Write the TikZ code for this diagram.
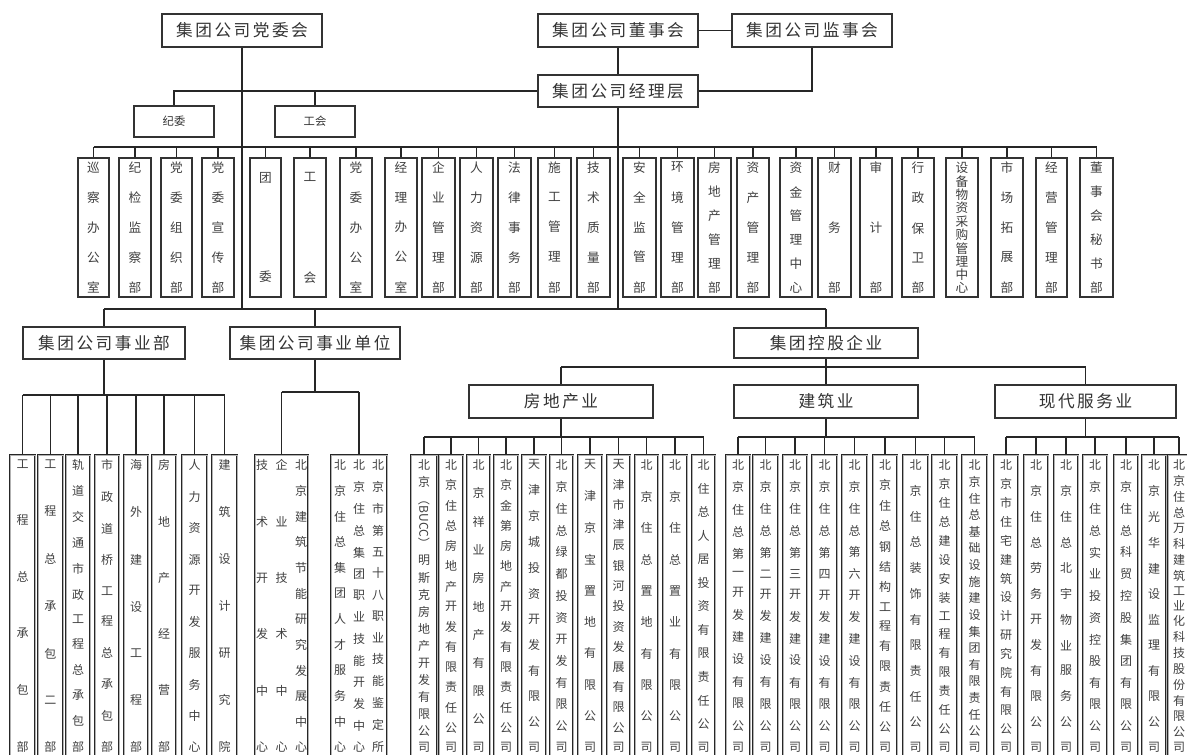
\documentclass[tikz,border=0pt]{standalone}
\usepackage{fontspec}
\usepackage{graphicx}
\setmainfont{Noto Sans CJK SC}
\newfontfamily\lsfont[LetterSpace=15]{Noto Sans CJK SC}
\newdimen\pxu \pxu=0.75pt
\makeatletter
\newcommand\vtext[1]{\offinterlineskip\vt@i#1\@nil}
\def\vt@i#1#2\@nil{\hbox to\hsize{\hss#1\hss}\ifx\relax#2\relax\else\vfill\vt@i#2\@nil\fi}
\makeatother
\newcommand\vcol[3]{\parbox[c][#1][s]{#2}{\vtext{#3}}}
\newcommand\bx[7]{\node[#1, minimum width={(#4-#3)*0.75pt}, minimum height={(#6-#5)*0.75pt}] (#2) at ({(#3+#4)/2},{(#5+#6)/2}) {#7};}
\newcommand\dep[5][130]{\bx{deptbox}{#2}{#3}{#4}{158}{297}{\vcol{#1\pxu}{16\pxu}{#5}}}
\newcommand\btm[4]{\bx{botbox}{#1}{#2}{#3}{455}{757}{\vcol{292\pxu}{16\pxu}{#4}}}
\tikzset{
  conn/.style={draw=black!85, line width=1pt},
  topbox/.style={draw=black!80, line width=1.1pt, fill=white, inner sep=0pt, text=black!80, font=\lsfont\fontsize{12.5}{14}\selectfont},
  smallbox/.style={draw=black!80, line width=1.1pt, fill=white, inner sep=0pt, text=black!80, font=\fontsize{8.5}{10}\selectfont},
  deptbox/.style={draw=black!80, line width=1.1pt, fill=white, inner sep=0pt, text=black!75, font=\fontsize{9.5}{11}\selectfont},
  botbox/.style={draw=black!85, line width=0.6pt, double=black!30, double distance=0.6pt, fill=white, inner sep=0pt, text=black!75, font=\fontsize{9}{10}\selectfont},
}
\begin{document}
\begin{tikzpicture}[x=0.75pt,y=-0.75pt]
\fill[white] (0,0) rectangle (1187,754);
\useasboundingbox (0,0) rectangle (1187,754);
% bus coordinates
\coordinate (b1) at (0,147);
\coordinate (mbus) at (0,309);
\coordinate (kb) at (0,367);
\coordinate (sb) at (0,395);
\coordinate (ub) at (0,392);
\coordinate (pb) at (0,437);
% top boxes
\bx{topbox}{dw}{162}{322}{14}{47}{集团公司党委会}
\bx{topbox}{dsh}{538}{698}{14}{47}{集团公司董事会}
\bx{topbox}{jsh}{732}{892}{14}{47}{集团公司监事会}
\bx{topbox}{jl}{538}{698}{75}{107}{集团公司经理层}
\bx{smallbox}{jw}{134}{214}{106}{137}{纪委}
\bx{smallbox}{gh}{275}{355}{106}{137}{工会}
% department row
\dep{d1}{78}{109}{巡察办公室}
\dep{d2}{119}{151}{纪检监察部}
\dep{d3}{161}{192}{党委组织部}
\dep{d4}{202}{234}{党委宣传部}
\dep[110]{d5}{250}{281}{团委}
\dep[110]{d6}{294}{326}{工会}
\dep{d7}{340}{372}{党委办公室}
\dep{d8}{385}{417}{经理办公室}
\dep{d9}{422}{455}{企业管理部}
\dep{d10}{460}{493}{人力资源部}
\dep{d11}{498}{531}{法律事务部}
\dep{d12}{538}{571}{施工管理部}
\dep{d13}{577}{610}{技术质量部}
\dep{d14}{623}{656}{安全监管部}
\dep{d15}{661}{694}{环境管理部}
\dep{d16}{698}{731}{房地产管理部}
\dep{d17}{737}{769}{资产管理部}
\dep{d18}{780}{812}{资金管理中心}
\dep{d19}{818}{851}{财务部}
\dep{d20}{860}{892}{审计部}
\dep{d21}{902}{934}{行政保卫部}
\dep{d22}{946}{978}{设备物资采购管理中心}
\dep{d23}{991}{1023}{市场拓展部}
\dep{d24}{1036}{1067}{经营管理部}
\dep{d25}{1080}{1113}{董事会秘书部}
% middle boxes
\bx{topbox}{syb}{23}{185}{327}{359}{集团公司事业部}
\bx{topbox}{sydw}{230}{400}{327}{359}{集团公司事业单位}
\bx{topbox}{kg}{734}{918}{328}{358}{集团控股企业}
\bx{topbox}{fdc}{469}{653}{385}{418}{房地产业}
\bx{topbox}{jzy}{734}{918}{385}{418}{建筑业}
\bx{topbox}{xd}{995}{1176}{385}{418}{现代服务业}
% bottom boxes: 事业部
\btm{s1}{10}{35}{工程总承包部}
\btm{s2}{38}{63}{工程总承包二部}
\btm{s3}{66}{90}{轨道交通市政工程总承包部}
\btm{s4}{95}{119}{市政道桥工程总承包部}
\btm{s5}{124}{148}{海外建设工程部}
\btm{s6}{152}{176}{房地产经营部}
\btm{s7}{182}{207}{人力资源开发服务中心}
\btm{s8}{212}{237}{建筑设计研究院}
% 事业单位
\bx{botbox}{u1}{255}{308}{455}{757}{\vcol{292\pxu}{13\pxu}{技术开发中心}\hspace{6.5\pxu}\vcol{292\pxu}{13\pxu}{企业技术中心}\hspace{6.5\pxu}\vcol{292\pxu}{13\pxu}{北京建筑节能研究发展中心}}
\bx{botbox}{u2}{331}{387}{455}{757}{\vcol{292\pxu}{13\pxu}{北京住总集团人才服务中心}\hspace{6\pxu}\vcol{292\pxu}{13\pxu}{北京住总集团职业技能开发中心}\hspace{6\pxu}\vcol{292\pxu}{13\pxu}{北京市第五十八职业技能鉴定所}}
% 房地产业
\btm{f1}{411}{437}{北京{\rotatebox{-90}{（BUCC）}}明斯克房地产开发有限公司}
\btm{f2}{439}{463}{北京住总房地产开发有限责任公司}
\btm{f3}{467}{490}{北京祥业房地产有限公司}
\btm{f4}{494}{518}{北京金第房地产开发有限责任公司}
\btm{f5}{522}{546}{天津京城投资开发有限公司}
\btm{f6}{550}{573}{北京住总绿都投资开发有限公司}
\btm{f7}{578}{602}{天津京宝置地有限公司}
\btm{f8}{607}{630}{天津市津辰银河投资发展有限公司}
\btm{f9}{635}{658}{北京住总置地有限公司}
\btm{f10}{663}{687}{北京住总置业有限公司}
\btm{f11}{692}{715}{北住总人居投资有限责任公司}
% 建筑业
\btm{j1}{726}{750}{北京住总第一开发建设有限公司}
\btm{j2}{753}{778}{北京住总第二开发建设有限公司}
\btm{j3}{783}{807}{北京住总第三开发建设有限公司}
\btm{j4}{812}{837}{北京住总第四开发建设有限公司}
\btm{j5}{842}{867}{北京住总第六开发建设有限公司}
\btm{j6}{873}{897}{北京住总钢结构工程有限责任公司}
\btm{j7}{903}{928}{北京住总装饰有限责任公司}
\btm{j8}{932}{957}{北京住总建设安装工程有限责任公司}
\btm{j9}{962}{987}{北京住总基础设施建设集团有限责任公司}
% 现代服务业
\btm{x1}{994}{1018}{北京市住宅建筑设计研究院有限公司}
\btm{x2}{1024}{1048}{北京住总劳务开发有限公司}
\btm{x3}{1054}{1078}{北京住总北宇物业服务公司}
\btm{x4}{1083}{1107}{北京住总实业投资控股有限公司}
\btm{x5}{1114}{1138}{北京住总科贸控股集团有限公司}
\btm{x6}{1142}{1166}{北京光华建设监理有限公司}
\btm{x7}{1168}{1190}{北京住总万科建筑工业化科技股份有限公司}
% connectors: top
\draw[conn] (dsh.east) -- (jsh.west);
\draw[conn] (dsh.south) -- (jl.north);
\draw[conn] (jsh.south) |- (jl.east);
\draw[conn] (jl.west) -| (jw.north);
\draw[conn] (gh.north) -- (gh.north |- jl.west);
\draw[conn] (dw.south) -- (dw.south |- mbus);
\draw[conn] (jl.south) -- (jl.south |- mbus);
% department bar
\draw[conn] (d1.north |- b1) -- (d25.north |- b1);
\foreach \i in {1,...,25} \draw[conn] (d\i.north) -- (d\i.north |- b1);
% middle bus
\draw[conn] (syb.north |- mbus) -- (kg.north |- mbus);
\draw[conn] (syb.north) -- (syb.north |- mbus);
\draw[conn] (sydw.north) -- (sydw.north |- mbus);
\draw[conn] (kg.north) -- (kg.north |- mbus);
% 控股 bus
\draw[conn] (kg.south) -- (kg.south |- kb);
\draw[conn] (fdc.north |- kb) -- (xd.north |- kb);
\draw[conn] (fdc.north) -- (fdc.north |- kb);
\draw[conn] (jzy.north) -- (jzy.north |- kb);
\draw[conn] (xd.north) -- (xd.north |- kb);
% 事业部 children
\draw[conn] (syb.south) -- (syb.south |- sb);
\draw[conn] (s1.north |- sb) -- (s8.north |- sb);
\foreach \i in {1,...,8} \draw[conn] (s\i.north) -- (s\i.north |- sb);
% 事业单位 children
\draw[conn] (sydw.south) -- (sydw.south |- ub);
\draw[conn] (u1.north |- ub) -- (u2.north |- ub);
\foreach \i in {1,2} \draw[conn] (u\i.north) -- (u\i.north |- ub);
% 房地产业 children
\draw[conn] (fdc.south) -- (fdc.south |- pb);
\draw[conn] (f1.north |- pb) -- (f11.north |- pb);
\foreach \i in {1,...,11} \draw[conn] (f\i.north) -- (f\i.north |- pb);
% 建筑业 children
\draw[conn] (jzy.south) -- (jzy.south |- pb);
\draw[conn] (j1.north |- pb) -- (j9.north |- pb);
\foreach \i in {1,...,9} \draw[conn] (j\i.north) -- (j\i.north |- pb);
% 现代服务业 children
\draw[conn] (xd.south) -- (xd.south |- pb);
\draw[conn] (x1.north |- pb) -- (x7.north |- pb);
\foreach \i in {1,...,7} \draw[conn] (x\i.north) -- (x\i.north |- pb);
\end{tikzpicture}
\end{document}
